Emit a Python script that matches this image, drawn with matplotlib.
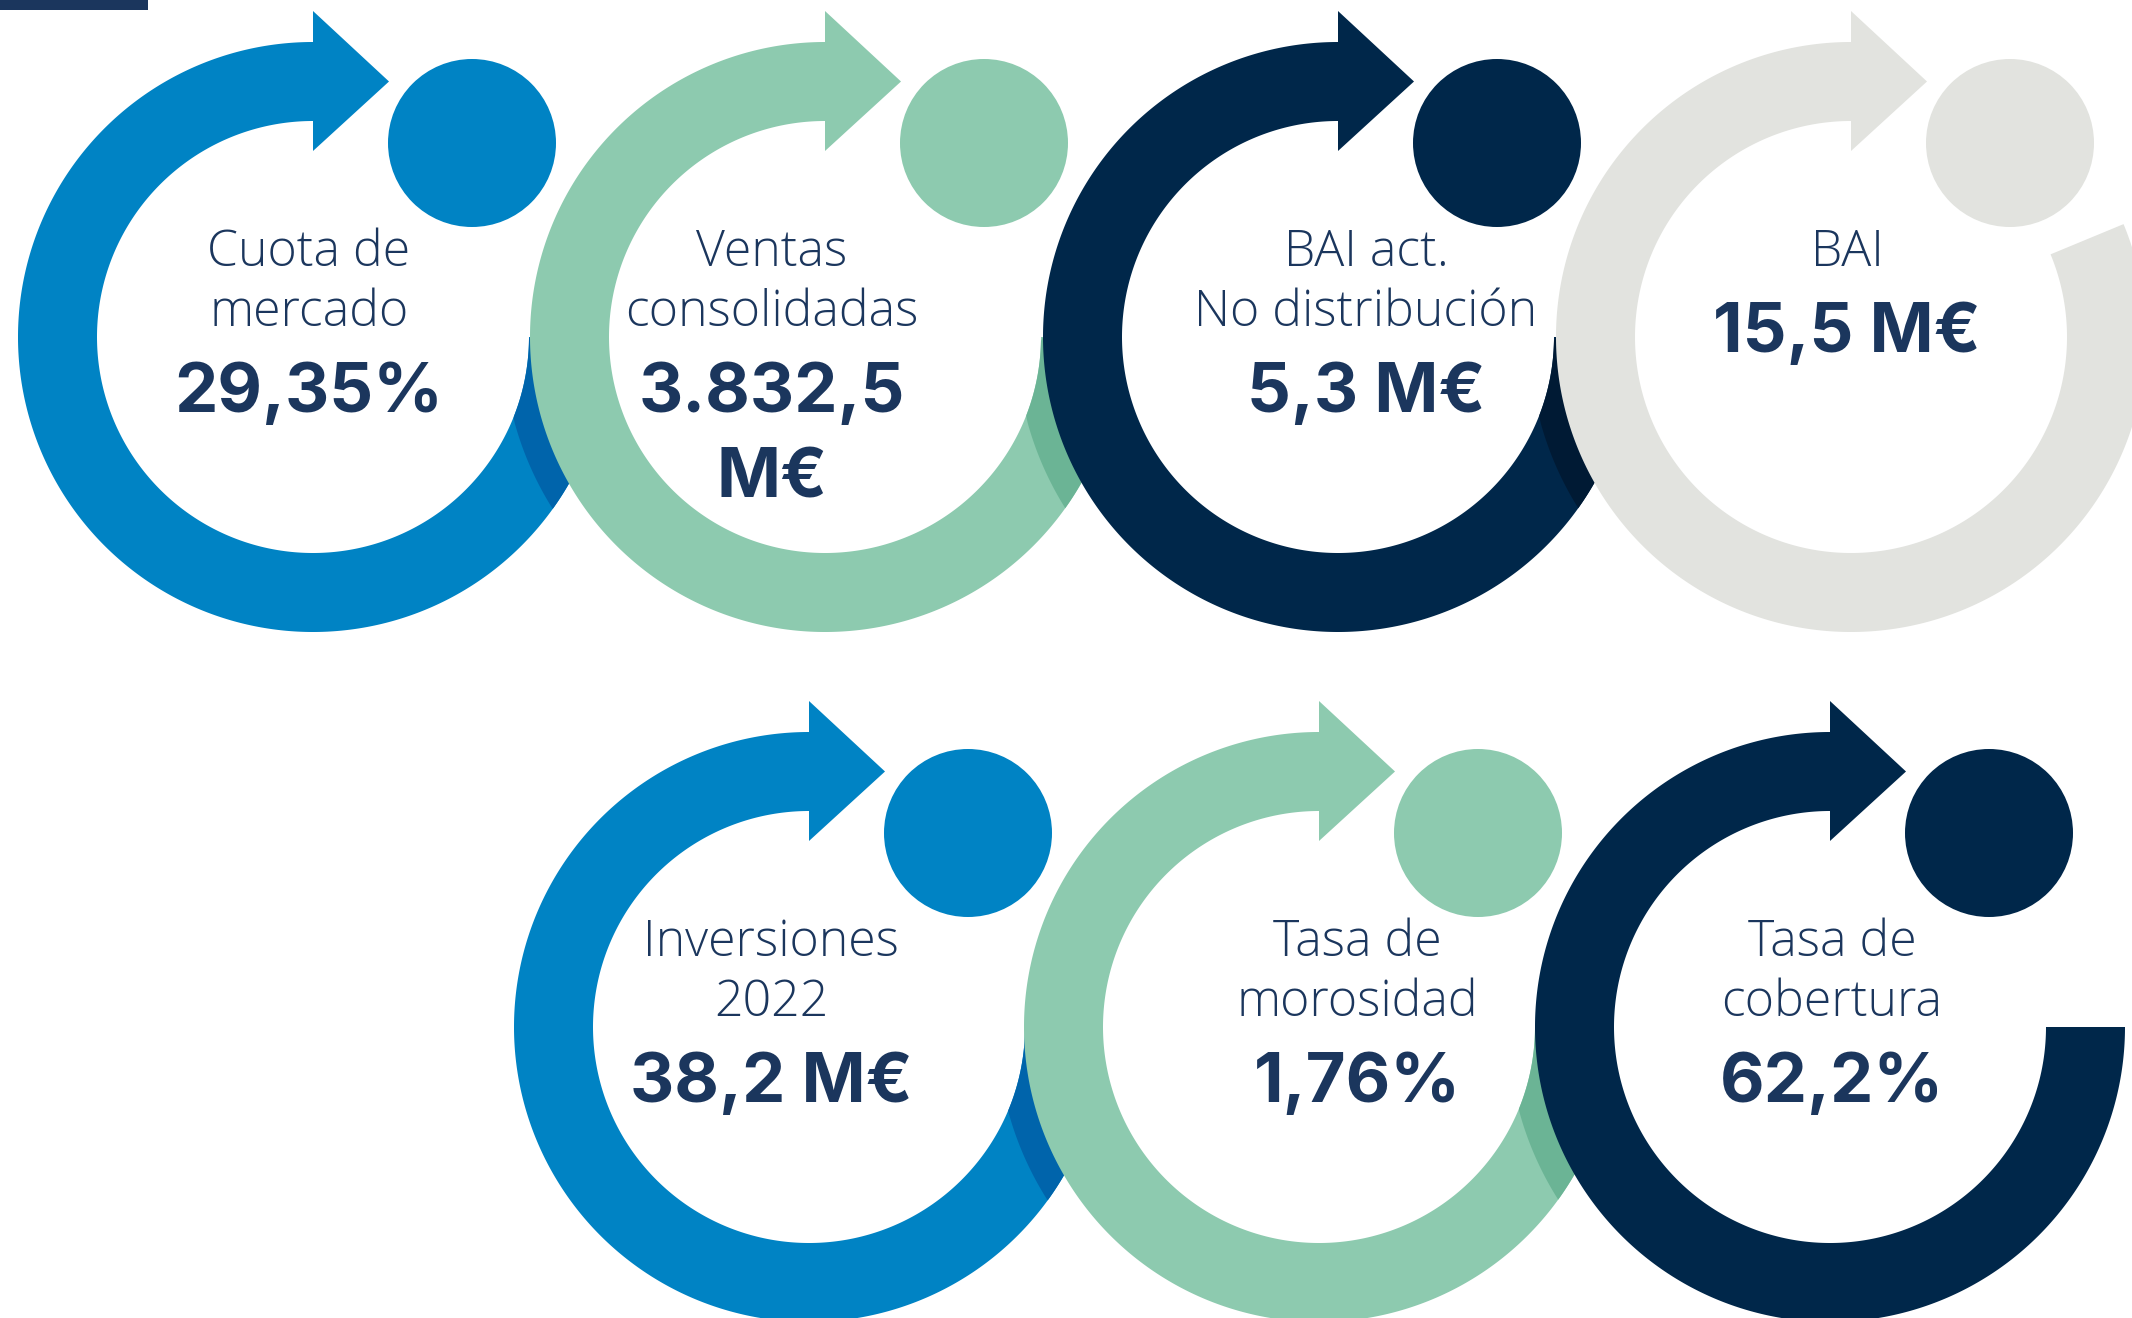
import numpy as np
import matplotlib
matplotlib.use("Agg")
import matplotlib.pyplot as plt
from matplotlib.patches import Polygon, Circle, Rectangle

W, H = 2132, 1318

# --- data -----------------------------------------------------------------
labels = [
    ["Cuota de", "mercado"],
    ["Ventas", "consolidadas"],
    ["BAI act.", "No distribución"],
    ["BAI"],
    ["Inversiones", "2022"],
    ["Tasa de", "morosidad"],
    ["Tasa de", "cobertura"],
]
values = [
    ["29,35%"],
    ["3.832,5", "M€"],
    ["5,3 M€"],
    ["15,5 M€"],
    ["38,2 M€"],
    ["1,76%"],
    ["62,2%"],
]
tones = ["blue", "green", "navy", "gray", "blue", "green", "navy"]

# fill colour, shadow colour (where the next ring sits on top)
PALETTE = {
    "blue": ("#0083C4", "#0064AB"),
    "green": ("#8DCAAF", "#6BB495"),
    "navy": ("#00274A", "#001A34"),
    "gray": ("#E2E3DF", "#C9CAC6"),
}
TEXT = "#1B365D"

# --- layout (pixels, y down) -------------------------------------------------
ring_x = [313, 825, 1338, 1851, 809, 1319, 1830]
ring_y = [337, 337, 337, 337, 1027, 1027, 1027]
text_x = [309, 772, 1366, 1847, 771, 1357, 1832]
ring_end = [0, 0, 0, 22.5, 0, 0, 0]   # deg above the right horizontal
row = [0, 0, 0, 0, 1, 1, 1]

R_OUT, R_IN = 295, 216
DOT_DX, DOT_DY, DOT_R = 159, -194, 84


def ring_points(cx, cy, end_deg):
    th = np.radians(np.linspace(-end_deg, 270, 500))
    outer = np.c_[cx + R_OUT * np.cos(th), cy + R_OUT * np.sin(th)]
    inner = np.c_[cx + R_IN * np.cos(th[::-1]), cy + R_IN * np.sin(th[::-1])]
    head = [(cx, cy - 326), (cx + 76, cy - 255.5), (cx, cy - 186)]
    return np.vstack([outer, head, inner])


def shadow_points(nx, ny):
    deg = np.linspace(180, 100, 300)
    t = np.clip((180 - deg) / 16, 0, 1)
    r_out = R_OUT + 27 * np.sin(t * np.pi / 2)
    phi = np.radians(deg)
    outer = np.c_[nx + r_out * np.cos(phi), ny + r_out * np.sin(phi)]
    inner = np.c_[nx + (R_OUT - 30) * np.cos(phi[::-1]),
                  ny + (R_OUT - 30) * np.sin(phi[::-1])]
    return np.vstack([outer, inner])


plt.rcParams['font.family'] = ['Open Sans', 'DejaVu Sans']

fig = plt.figure(figsize=(W / 100, H / 100), dpi=100)
ax = fig.add_axes([0, 0, 1, 1])
ax.set_xlim(0, W)
ax.set_ylim(H, 0)
ax.axis('off')

ax.add_patch(Rectangle((0, 0), 148, 10, color=TEXT, lw=0))

for i in range(len(labels)):
    cx, cy = ring_x[i], ring_y[i]
    fill, shade = PALETTE[tones[i]]
    # white disc so nothing of the previous ring shows through the hole
    ax.add_patch(Circle((cx, cy), R_IN + 1, facecolor='white',
                        edgecolor='none', zorder=2 * i))
    ring = Polygon(ring_points(cx, cy, ring_end[i]), closed=True,
                   facecolor=fill, edgecolor='none', zorder=2 * i)
    ax.add_patch(ring)
    ax.add_patch(Circle((cx + DOT_DX, cy + DOT_DY), DOT_R, facecolor=fill,
                        edgecolor='none', zorder=2 * i))
    # darker band where the next ring of the row overlaps this one
    if i + 1 < len(labels) and row[i + 1] == row[i]:
        sh = Polygon(shadow_points(ring_x[i + 1], ring_y[i + 1]), closed=True,
                     facecolor=shade, edgecolor='none', zorder=2 * i + 1)
        ax.add_patch(sh)
        sh.set_clip_path(ring)

    y = cy - 71
    for k, line in enumerate(labels[i]):
        ax.text(text_x[i], y, line, ha='center', va='baseline', color=TEXT,
                fontsize=36, fontweight='light', zorder=50)
        if k < len(labels[i]) - 1:
            y += 60
    y += 86
    for line in values[i]:
        ax.text(text_x[i], y, line, ha='center', va='baseline', color=TEXT,
                fontsize=49.5, fontweight='bold', zorder=50,
                family=['Inter', 'DejaVu Sans'])
        y += 85

fig.savefig('out.png', dpi=100)
